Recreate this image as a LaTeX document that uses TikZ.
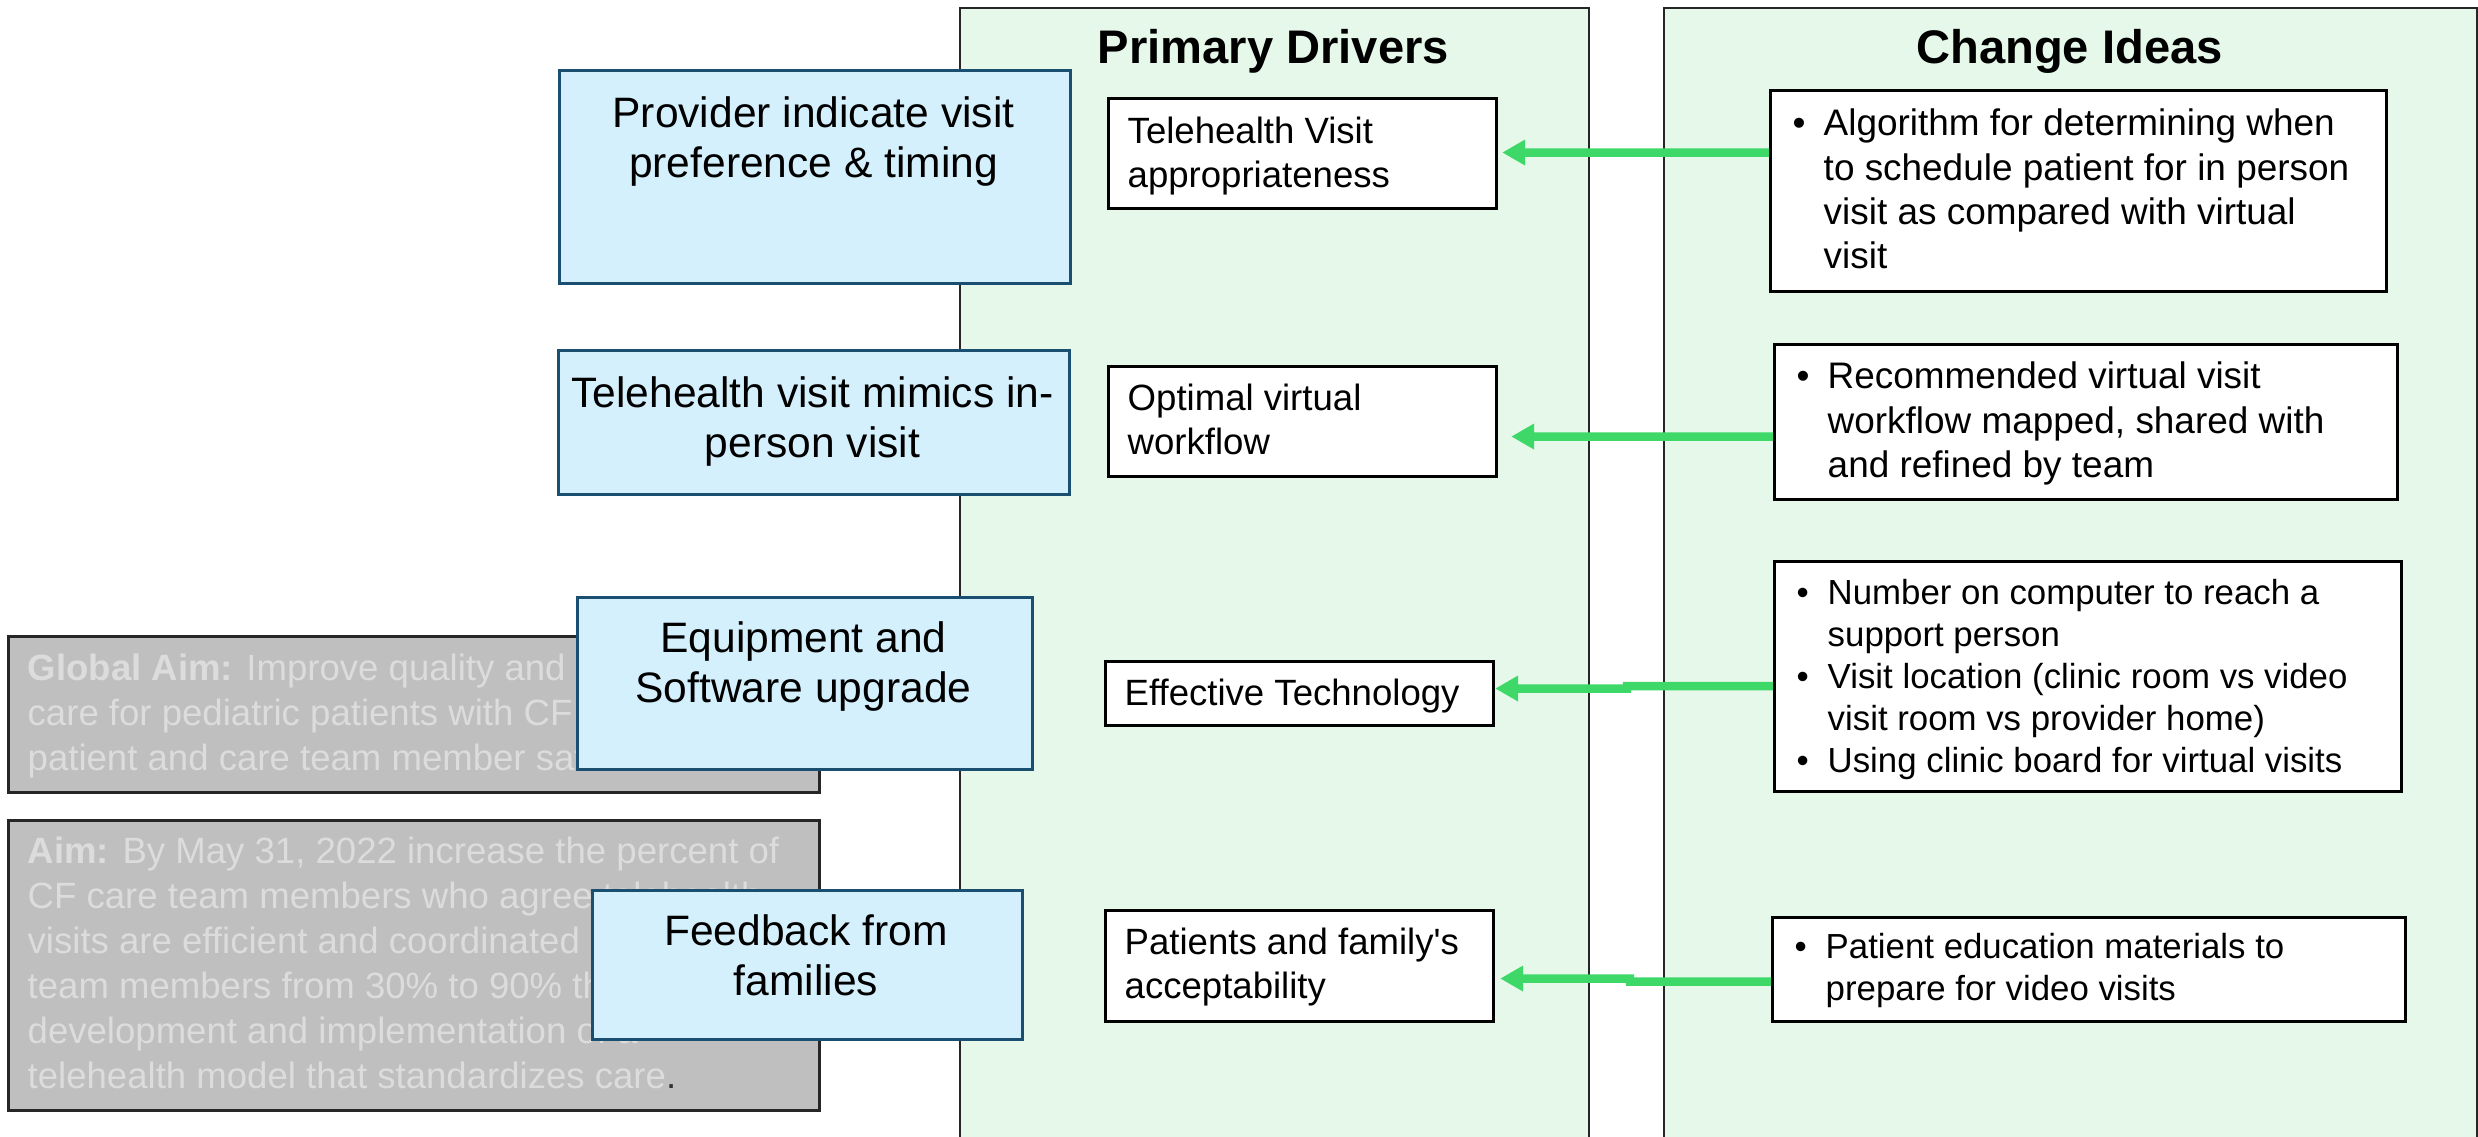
\documentclass[tikz,border=0pt]{standalone}
\usepackage{fontspec}
\setmainfont{Liberation Sans}
\usetikzlibrary{arrows.meta,calc}
\definecolor{panelfill}{HTML}{E6F8EA}
\definecolor{bluefill}{HTML}{D4F0FC}
\definecolor{blueedge}{HTML}{1B4F72}
\definecolor{grayfill}{HTML}{BFBFBF}
\definecolor{graytext}{HTML}{DCDCDC}
\definecolor{arrowgreen}{HTML}{3DD868}

\begin{document}
\begin{tikzpicture}[x=0.01cm,y=-0.01cm,
  panel/.style={draw=black!85, fill=panelfill, line width=0.6pt, inner sep=0pt, anchor=north west},
  paneltitle/.style={inner sep=0pt, anchor=base, font=\fontsize{13.4}{16}\selectfont\bfseries},
  bluebox/.style={draw=blueedge, fill=bluefill, line width=0.85pt, inner sep=0pt, anchor=north west},
  whitebox/.style={draw=black, fill=white, line width=0.85pt, inner sep=0pt, anchor=north west},
  aimbox/.style={draw=black!85, fill=grayfill, line width=0.85pt, inner sep=0pt, anchor=north west},
  bluetext/.style={inner sep=0pt, anchor=north, align=center, font=\fontsize{12.1}{14.2}\selectfont},
  bodytext/.style={inner sep=0pt, anchor=north west, align=left, font=\fontsize{10.4}{12.5}\selectfont},
  listtext/.style 2 args={inner sep=0pt, anchor=north west, align=left, font=\fontsize{#1}{#2}\selectfont},
  aimtext/.style={inner sep=0pt, anchor=north west, align=left, text=graytext, font=\fontsize{10.4}{12.8}\selectfont},
  arr/.style={draw=arrowgreen, line width=2.4pt, -{Triangle[length=6.5pt,width=6.9pt]}}
]
\newcommand{\bul}{\makebox[0.31cm][l]{\textbullet}}
\newcommand{\ind}{\hspace*{0.31cm}}

\useasboundingbox (0,0) rectangle (2478,1136);

% column panels (they run past the lower edge)
\node[panel, minimum width=6.29cm, minimum height=11.6cm] (pdpanel) at (959,7) {};
\node[panel, minimum width=8.13cm, minimum height=11.6cm] (cipanel) at (1663,7) {};
\node[paneltitle] (pdtitle) at (1273.5,63) {Primary Drivers};
\node[paneltitle] (cititle) at (2069.5,63) {Change Ideas};

% aim statements
\node[aimbox, minimum width=8.11cm, minimum height=1.56cm] (gaim) at (7,635) {};
\node[aimtext] (gaimtxt) at (27,648.5) {\strut\textbf{Global Aim:} Improve quality and efficiency of\\
  care for pediatric patients with CF to improve\\
  patient and care team member satisfaction.};
\node[aimbox, minimum width=8.11cm, minimum height=2.90cm] (aim) at (7,819) {};
\node[aimtext] (aimtxt) at (27,831.5) {\strut\textbf{Aim:} By May 31, 2022 increase the percent of\\
  CF care team members who agree telehealth\\
  visits are efficient and coordinated among care\\
  team members from 30\% to 90\% through the\\
  development and implementation of a\\
  telehealth model that standardizes care{\color{black!80}.}};

% secondary drivers
\node[bluebox, minimum width=5.11cm, minimum height=2.13cm] (b1) at (558,69) {};
\node[bluetext] (b1txt) at (813.5,92) {\strut Provider indicate visit\\preference \& timing};
\node[bluebox, minimum width=5.11cm, minimum height=1.44cm] (b2) at (557,349) {};
\node[bluetext] (b2txt) at (812.5,372) {\strut Telehealth visit mimics in-\\person visit};
\node[bluebox, minimum width=4.55cm, minimum height=1.72cm] (b3) at (576,596) {};
\node[bluetext] (b3txt) at (803.5,617) {\strut Equipment and\\Software upgrade};
\node[bluebox, minimum width=4.30cm, minimum height=1.49cm] (b4) at (591,889) {};
\node[bluetext] (b4txt) at (806,910) {\strut Feedback from\\families};

% primary drivers
\node[whitebox, minimum width=3.88cm, minimum height=1.10cm] (d1) at (1107,97) {};
\node[bodytext] (d1txt) at (1127,112) {\strut Telehealth Visit\\appropriateness};
\node[whitebox, minimum width=3.88cm, minimum height=1.10cm] (d2) at (1107,365) {};
\node[bodytext] (d2txt) at (1127,379) {\strut Optimal virtual\\workflow};
\node[whitebox, minimum width=3.88cm, minimum height=0.64cm] (d3) at (1104,660) {};
\node[bodytext] (d3txt) at (1124,674) {\strut Effective Technology};
\node[whitebox, minimum width=3.88cm, minimum height=1.11cm] (d4) at (1104,909) {};
\node[bodytext] (d4txt) at (1124,923) {\strut Patients and family\textquotesingle s\\acceptability};

% change ideas
\node[whitebox, minimum width=6.16cm, minimum height=2.01cm] (c1) at (1769,89) {};
\node[listtext={10.5}{12.6}] (c1txt) at (1792,104) {\strut\bul Algorithm for determining when\\
  \ind to schedule patient for in person\\
  \ind visit as compared with virtual\\
  \ind visit};
\node[whitebox, minimum width=6.23cm, minimum height=1.55cm] (c2) at (1773,343) {};
\node[listtext={10.5}{12.6}] (c2txt) at (1796,357) {\strut\bul Recommended virtual visit\\
  \ind workflow mapped, shared with\\
  \ind and refined by team};
\node[whitebox, minimum width=6.27cm, minimum height=2.30cm] (c3) at (1773,560) {};
\node[listtext={9.9}{11.95}] (c3txt) at (1796,574) {\strut\bul Number on computer to reach a\\
  \ind support person\\
  \bul Visit location (clinic room vs video\\
  \ind visit room vs provider home)\\
  \bul Using clinic board for virtual visits};
\node[whitebox, minimum width=6.33cm, minimum height=1.04cm] (c4) at (1771,916) {};
\node[listtext={9.9}{11.95}] (c4txt) at (1794,928) {\strut\bul Patient education materials to\\
  \ind prepare for video visits};

% links from change ideas to primary drivers
\draw[arr] ($(c1.west)+(0,-38.5)$) -- ($(d1.east)+(4,-1)$);
\draw[arr] ($(c2.west)+(0,14.5)$) -- ($(d2.east)+(13,15)$);
\draw[arr] ($(c3.west)+(0,9.6)$) -- ++(-146,0) -- ++(0,2.4) -- ($(d3.east)+(0,-5)$);
\draw[arr] ($(c4.west)+(0,12)$) -- ++(-141,0) -- ++(0,-3) -- ($(d4.east)+(5,12.5)$);
\end{tikzpicture}
\end{document}
